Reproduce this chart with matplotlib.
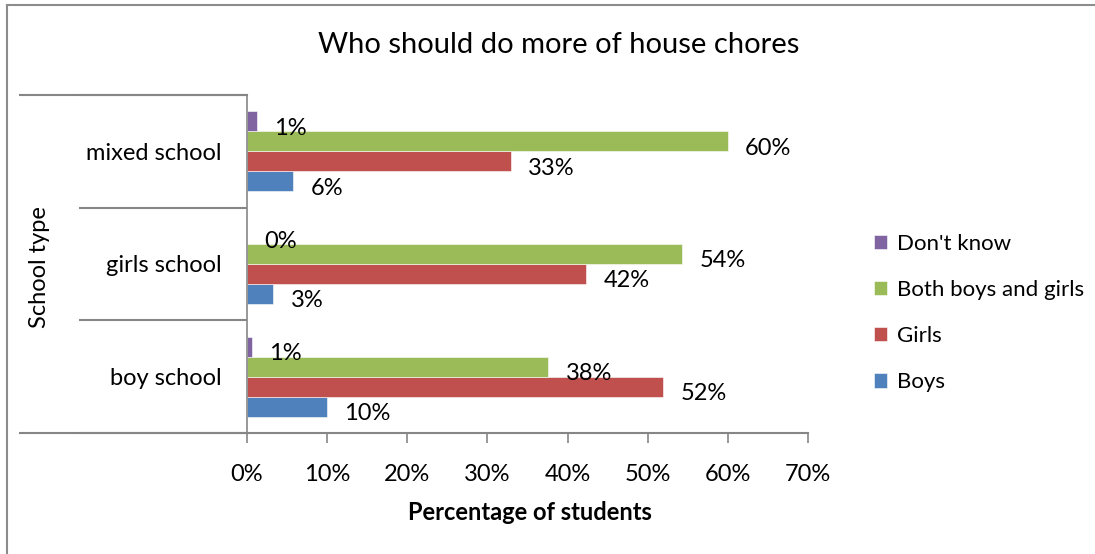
import matplotlib.pyplot as plt
import matplotlib.lines as mlines
import numpy as np

# ======================================================
# DATA
# ======================================================
schools = ["boy school", "girls school", "mixed school"]
series_names = ["Boys", "Girls", "Both boys and girls", "Don't know"]
boys = [10.0, 3.3, 5.8]
girls = [51.9, 42.3, 32.9]
both = [37.6, 54.3, 60.0]
dont_know = [0.6, 0.0, 1.2]
series_colors = ["#4F81BD", "#C0504D", "#9BBB59", "#8064A2"]
x_ticks = [0, 10, 20, 30, 40, 50, 60, 70]

plt.rcParams["font.family"] = ["Lato", "DejaVu Sans"]
FS = 17
GRAY = "#868686"

W, H = 1095, 554
fig = plt.figure(figsize=(W / 100, H / 100), dpi=100)

# Plot area in pixel coordinates
left, right, top, bottom = 247, 808, 95, 433
ax = fig.add_axes([left / W, 1 - bottom / H, (right - left) / W, (bottom - top) / H])

y = np.arange(len(schools))
bar_h = 0.177
values = [boys, girls, both, dont_know]
offsets = [-1.5, -0.5, 0.5, 1.5]

for vals, name, color, off in zip(values, series_names, series_colors, offsets):
    ax.barh(y + off * bar_h, vals, height=bar_h, color=color,
            edgecolor="white", linewidth=0.4, label=name)
    # Value labels to the right of each bar
    for yi, v in zip(y, vals):
        ax.annotate(f"{v:.0f}%", (v, yi + off * bar_h),
                    xytext=(12.5, -5), textcoords="offset points",
                    ha="left", va="center", fontsize=FS)

ax.set_xlim(0, 70)
ax.set_ylim(-0.5, 2.5)

# X axis ticks
ax.set_xticks(x_ticks)
ax.set_xticklabels([f"{t}%" for t in x_ticks])
ax.tick_params(axis="x", direction="out", length=7.5, width=1.2,
               color=GRAY, labelsize=FS, pad=15)

# Category separators as long ticks, labels on minor ticks
ax.set_yticks([-0.5, 0.5, 1.5, 2.5])
ax.set_yticklabels([])
ax.tick_params(axis="y", which="major", direction="out", length=121,
               width=1.5, color=GRAY)
ax.set_yticks(y, minor=True)
ax.set_yticklabels(schools, minor=True)
ax.tick_params(axis="y", which="minor", length=0, labelsize=FS, pad=18)

# Outer separators run further left, past the axis title
for yb in [-0.5, 2.5]:
    ax.plot([-(left - 20) / (right - left), 0], [yb, yb], color=GRAY, lw=1.5,
            transform=ax.get_yaxis_transform(), clip_on=False)

for side in ["top", "right"]:
    ax.spines[side].set_visible(False)
ax.spines["left"].set_color(GRAY)
ax.spines["left"].set_linewidth(1.2)
ax.spines["bottom"].set_color(GRAY)
ax.spines["bottom"].set_linewidth(1.5)

# Titles and axis labels
fig.text(559 / W, 1 - 45 / H, "Who should do more of house chores",
         ha="center", va="center", fontsize=21)
fig.text(40 / W, 1 - 267 / H, "School type", rotation=90,
         ha="center", va="center", fontsize=FS)
fig.text(530 / W, 1 - 512 / H, "Percentage of students",
         ha="center", va="center", fontsize=FS, fontweight="bold")

# Legend, top entry first
handles, labels = ax.get_legend_handles_labels()
leg = fig.legend(handles[::-1], labels[::-1], loc="center left",
                 bbox_to_anchor=(874 / W, 1 - 313 / H), frameon=False,
                 fontsize=16, handlelength=0.6, handleheight=0.6,
                 handletextpad=0.45, labelspacing=1.18, borderaxespad=0,
                 borderpad=0)

# Chart area border
fig.add_artist(mlines.Line2D([7 / W, 7 / W], [0, 1 - 5 / H],
                             transform=fig.transFigure, color="#8c8c8c", lw=1.5))
fig.add_artist(mlines.Line2D([7 / W, 1], [1 - 5 / H, 1 - 5 / H],
                             transform=fig.transFigure, color="#8c8c8c", lw=1.5))

fig.savefig("out.png", dpi=100)
